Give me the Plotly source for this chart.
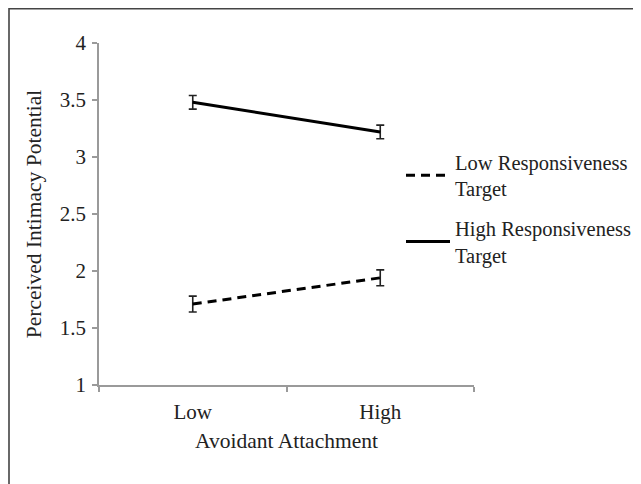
import plotly.graph_objects as go

categories = ["Low", "High"]
low_resp = [1.71, 1.94]
low_resp_err = [0.07, 0.07]
high_resp = [3.48, 3.22]
high_resp_err = [0.06, 0.06]
series_names = ["Low Responsiveness<br>Target", "High Responsiveness<br>Target"]
y_ticks = [1, 1.5, 2, 2.5, 3, 3.5, 4]
y_tick_text = ["1", "1.5", "2", "2.5", "3", "3.5", "4"]

FONT = "Liberation Serif"

fig = go.Figure()
fig.add_trace(go.Scatter(
    x=categories, y=low_resp, name=series_names[0], mode="lines", legendgroup="a",
    line=dict(color="black", width=3, dash="9px,6px"),
    error_y=dict(type="data", array=low_resp_err, visible=True, color="#222", thickness=1.6, width=4),
))
fig.add_trace(go.Scatter(
    x=categories, y=high_resp, name=series_names[1], mode="lines", legendgroup="b",
    line=dict(color="black", width=3),
    error_y=dict(type="data", array=high_resp_err, visible=True, color="#222", thickness=1.6, width=4),
))

# page body adds an 8px offset; figure coordinates below are relative to the figure
W, H = 641, 484
L, T, R, B = 91, 35, 466, 377

fig.update_layout(
    width=W, height=H,
    margin=dict(l=L, r=W - R, t=T, b=H - B, autoexpand=False),
    paper_bgcolor="white", plot_bgcolor="white",
    font=dict(family=FONT, size=21, color="#222"),
    showlegend=True,
    legend=dict(
        x=(393 - L) / (R - L), y=(B - 134) / (B - T), xanchor="left", yanchor="top",
        bgcolor="rgba(0,0,0,0)", font=dict(family=FONT, size=20.5, color="#222"),
        tracegroupgap=10, itemwidth=44,
    ),
    xaxis=dict(
        type="category", range=[-0.5, 1.5], showgrid=False, zeroline=False,
        showline=True, linecolor="#9a9a9a", linewidth=1.5,
        ticks="outside", tickson="boundaries", ticklen=5, tickcolor="#9a9a9a", tickwidth=1.5,
        ticklabelstandoff=7, tickfont=dict(size=21),
        title=dict(text="Avoidant Attachment", font=dict(family=FONT, size=21.5, color="#222"), standoff=10),
    ),
    yaxis=dict(
        range=[1, 4], tickvals=y_ticks, ticktext=y_tick_text, showgrid=False, zeroline=False,
        showline=True, linecolor="#9a9a9a", linewidth=1.5,
        ticks="outside", ticklen=5, tickcolor="#9a9a9a", tickwidth=1.5,
        ticklabelstandoff=2, tickfont=dict(size=21),
        title=dict(text="Perceived Intimacy Potential", font=dict(family=FONT, size=21.5, color="#222"), standoff=12),
    ),
)

def px2x(px):
    return (px - L) / (R - L)

def py2y(py):
    return (B - py) / (B - T)

# outer frame (left and top edges visible)
fig.add_shape(type="rect", xref="paper", yref="paper",
              x0=px2x(1), x1=px2x(700), y0=py2y(560), y1=py2y(0.8),
              line=dict(color="#444", width=1.6), fillcolor="rgba(0,0,0,0)", layer="below")

fig.write_html("out.html")
